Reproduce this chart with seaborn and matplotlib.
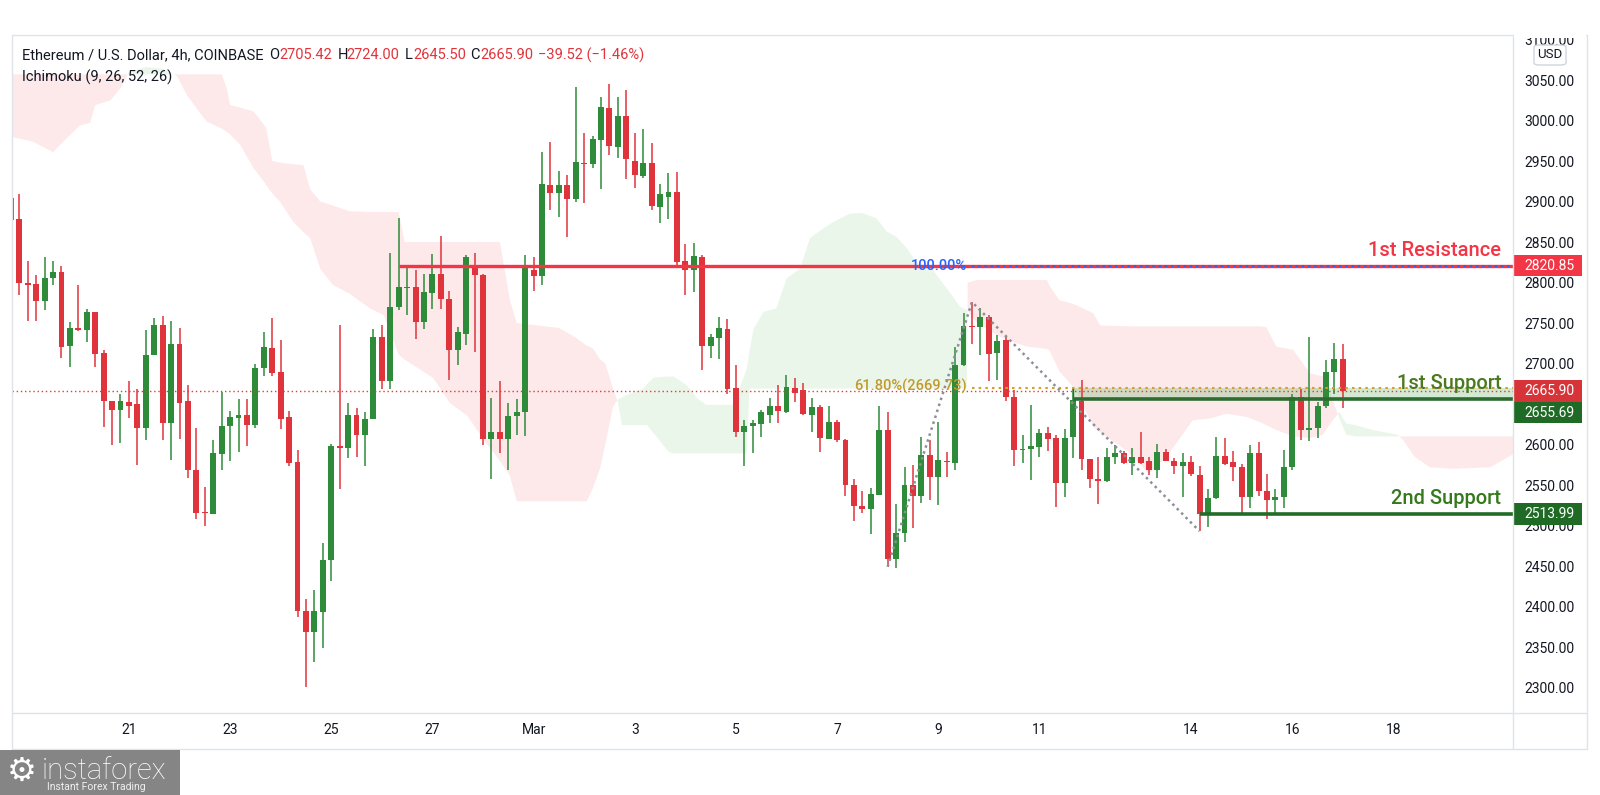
import numpy as np
import pandas as pd
import matplotlib
matplotlib.use("Agg")
import matplotlib.pyplot as plt
import matplotlib.transforms as mtransforms
from matplotlib.patches import Rectangle, FancyBboxPatch
from matplotlib.lines import Line2D
import seaborn as sns

# ---------------- data (4h candles, ETH/USD) ----------------
opens = [2904, 2878, 2800, 2798, 2777, 2805, 2813, 2722, 2744, 2742,
         2763, 2713, 2654, 2642, 2652, 2650, 2620, 2711, 2748, 2626,
         2724, 2654, 2568, 2517, 2514, 2588, 2623, 2633, 2636, 2624,
         2695, 2719, 2689, 2634, 2579, 2395, 2368, 2393, 2457, 2598,
         2596, 2636, 2612, 2631, 2733, 2678, 2770, 2793, 2795, 2751,
         2787, 2810, 2780, 2717, 2737, 2822, 2809, 2607, 2616, 2607,
         2635, 2640, 2816, 2808, 2921, 2911, 2921, 2903, 2948, 2946,
         2976, 3016, 2967, 3005, 2950, 2931, 2947, 2893, 2906, 2912,
         2826, 2815, 2832, 2722, 2731, 2743, 2670, 2615, 2623, 2625,
         2637, 2647, 2640, 2670, 2667, 2637, 2646, 2607, 2628, 2606,
         2550, 2524, 2520, 2538, 2618, 2459, 2491, 2550, 2536, 2587,
         2560, 2580, 2577, 2698, 2746, 2745, 2758, 2713, 2729, 2659,
         2593, 2595, 2597, 2614, 2608, 2552, 2609, 2654, 2582, 2557,
         2555, 2585, 2590, 2577, 2584, 2580, 2568, 2591, 2580, 2573,
         2579, 2562, 2514, 2534, 2586, 2578, 2572, 2535, 2589, 2543,
         2531, 2535, 2572, 2659, 2618, 2620, 2647, 2690, 2705.42]
highs = [2908, 2909, 2826, 2809, 2832, 2826, 2820, 2751, 2797, 2767,
         2764, 2717, 2654, 2662, 2678, 2669, 2741, 2756, 2759, 2752,
         2744, 2674, 2621, 2547, 2605, 2665, 2641, 2656, 2656, 2699,
         2739, 2756, 2729, 2641, 2593, 2409, 2420, 2478, 2601, 2748,
         2651, 2645, 2640, 2743, 2747, 2836, 2880, 2818, 2816, 2811,
         2835, 2857, 2790, 2745, 2834, 2836, 2811, 2658, 2679, 2651,
         2656, 2834, 2832, 2961, 2974, 2938, 2933, 3041, 2984, 2981,
         3029, 3045, 3029, 3038, 2984, 2989, 2972, 2922, 2935, 2937,
         2848, 2849, 2834, 2736, 2758, 2755, 2698, 2630, 2630, 2642,
         2658, 2673, 2686, 2682, 2676, 2658, 2649, 2647, 2630, 2607,
         2557, 2542, 2546, 2648, 2640, 2527, 2572, 2575, 2609, 2606,
         2628, 2591, 2720, 2762, 2776, 2769, 2760, 2735, 2733, 2667,
         2612, 2649, 2619, 2622, 2612, 2619, 2671, 2680, 2582, 2585,
         2596, 2600, 2592, 2596, 2616, 2584, 2601, 2595, 2583, 2590,
         2586, 2574, 2545, 2609, 2608, 2592, 2576, 2599, 2603, 2563,
         2545, 2593, 2662, 2669, 2733, 2652, 2704, 2725, 2724.00]
lows = [2875, 2785, 2752, 2753, 2766, 2797, 2707, 2696, 2740, 2726,
        2696, 2622, 2599, 2602, 2633, 2575, 2606, 2710, 2606, 2581,
        2607, 2559, 2508, 2500, 2514, 2568, 2580, 2591, 2598, 2621,
        2684, 2684, 2619, 2573, 2387, 2301, 2332, 2349, 2431, 2545,
        2583, 2585, 2573, 2631, 2668, 2668, 2766, 2760, 2730, 2743,
        2767, 2767, 2680, 2698, 2723, 2714, 2599, 2558, 2589, 2569,
        2612, 2610, 2790, 2797, 2889, 2881, 2856, 2899, 2898, 2942,
        2915, 2958, 2954, 2928, 2917, 2929, 2890, 2873, 2879, 2821,
        2785, 2788, 2692, 2707, 2706, 2662, 2609, 2574, 2589, 2609,
        2627, 2626, 2639, 2653, 2636, 2615, 2591, 2607, 2603, 2537,
        2506, 2515, 2490, 2538, 2450, 2448, 2480, 2497, 2528, 2531,
        2525, 2560, 2568, 2697, 2724, 2710, 2679, 2680, 2654, 2573,
        2577, 2556, 2584, 2592, 2523, 2535, 2583, 2568, 2546, 2526,
        2554, 2576, 2576, 2562, 2576, 2562, 2559, 2580, 2564, 2535,
        2561, 2493, 2498, 2533, 2575, 2555, 2514, 2522, 2537, 2508,
        2514, 2522, 2568, 2606, 2604, 2608, 2645, 2662, 2645.50]
closes = [2877, 2799, 2797, 2777, 2805, 2813, 2720, 2744, 2741, 2763,
          2712, 2654, 2642, 2654, 2648, 2620, 2711, 2748, 2626, 2724,
          2651, 2568, 2516, 2515, 2589, 2623, 2634, 2636, 2624, 2695,
          2721, 2688, 2632, 2577, 2395, 2368, 2395, 2457, 2598, 2596,
          2636, 2612, 2631, 2733, 2678, 2770, 2795, 2795, 2751, 2788,
          2810, 2780, 2717, 2739, 2831, 2809, 2607, 2616, 2607, 2635,
          2640, 2821, 2808, 2922, 2911, 2921, 2903, 2949, 2946, 2977,
          3017, 2969, 3006, 2952, 2933, 2947, 2894, 2909, 2912, 2825,
          2816, 2833, 2722, 2733, 2744, 2669, 2615, 2623, 2626, 2640,
          2648, 2641, 2671, 2664, 2638, 2646, 2608, 2628, 2605, 2550,
          2524, 2520, 2539, 2618, 2459, 2491, 2550, 2536, 2587, 2560,
          2581, 2578, 2698, 2746, 2745, 2758, 2712, 2728, 2659, 2593,
          2595, 2598, 2614, 2607, 2552, 2608, 2655, 2582, 2557, 2555,
          2585, 2590, 2577, 2584, 2577, 2568, 2591, 2580, 2573, 2579,
          2563, 2514, 2534, 2586, 2576, 2572, 2535, 2589, 2543, 2531,
          2535, 2572, 2659, 2618, 2620, 2647, 2690, 2705, 2665.90]

date_tick_idx = [14, 26, 38, 50, 62, 74, 86, 98, 110, 122, 140, 152, 164]
date_tick_labels = ["21", "23", "25", "27", "Mar", "3", "5", "7", "9", "11", "14", "16", "18"]
price_ticks = list(range(2300, 3101, 50))

# Ichimoku cloud (Senkou span A / B, already shifted), read at breakpoints
cloud_x = [0.0, 2.6, 5.0, 6.6, 8.2, 9.4, 10.0, 11.8, 13.0, 14.0,
           16.0, 18.0, 19.7, 20.9, 23.2, 25.0, 25.6, 26.0, 27.2, 28.8,
           30.0, 30.3, 31.0, 31.9, 33.5, 34.7, 35.5, 36.7, 38.2, 40.2,
           42.6, 44.2, 46.0, 46.7, 50.1, 52.1, 54.1, 56.5, 58.0, 59.2,
           60.0, 65.0, 67.0, 68.3, 69.0, 69.9, 70.5, 71.4, 72.0, 72.5,
           73.0, 75.0, 75.5, 76.2, 76.5, 78.0, 78.6, 80.2, 81.4, 82.5,
           85.7, 87.3, 87.6, 88.1, 89.3, 90.8, 92.0, 93.6, 94.8, 96.4,
           97.6, 99.5, 101.0, 102.7, 103.9, 105.1, 106.3, 107.4, 109.4, 111.0,
           112.6, 113.4, 113.5, 114.6, 117.3, 119.3, 120.5, 122.9, 123.2, 124.4,
           125.6, 126.4, 128.4, 129.2, 132.3, 135.0, 137.1, 139.1, 140.2, 142.2,
           144.2, 146.6, 148.1, 148.9, 150.1, 152.1, 154.1, 155.6, 156.0, 156.8,
           157.6, 158.4, 159.5, 161.5, 164.5, 165.2, 165.7, 166.5, 168.3, 171.0,
           175.5, 177.0, 178.5]
span_a = [2980, 2974, 2961, 2978, 2994, 2997, 3019, 3025, 3040, 3060,
          3066, 3064, 3055, 3031, 2999, 2990, 2986, 2983, 2970, 2941,
          2925, 2920, 2910, 2900, 2875, 2862, 2855, 2817, 2797, 2786,
          2768, 2760, 2711, 2705, 2682, 2651, 2636, 2600, 2580, 2561,
          2530, 2530, 2530, 2530, 2545, 2571, 2600, 2646, 2656, 2658,
          2661, 2669, 2675, 2682, 2683, 2684, 2684, 2673, 2657, 2649,
          2649, 2694, 2715, 2743, 2764, 2768, 2805, 2817, 2855, 2867,
          2875, 2885, 2886, 2879, 2863, 2856, 2842, 2825, 2815, 2793,
          2770, 2766, 2765, 2750, 2733, 2725, 2721, 2718, 2716, 2690,
          2676, 2665, 2622, 2615, 2593, 2564, 2585, 2614, 2630, 2632,
          2638, 2634, 2628, 2624, 2618, 2610, 2608, 2612, 2618, 2630,
          2640, 2626, 2624, 2618, 2612, 2605, 2597, 2585, 2572, 2570,
          2572, 2581, 2590]
span_b = [3057, 3057, 3057, 3057, 3057, 3057, 3057, 3057, 3057, 3057,
          3057, 3057, 3057, 3057, 3057, 3057, 3040, 3019, 3016, 3011,
          2995, 2990, 2950, 2948, 2946, 2945, 2915, 2900, 2895, 2888,
          2887, 2887, 2887, 2850, 2850, 2850, 2850, 2850, 2850, 2778,
          2750, 2744, 2732, 2722, 2719, 2705, 2700, 2670, 2652, 2624,
          2624, 2624, 2624, 2614, 2611, 2591, 2589, 2589, 2589, 2589,
          2589, 2589, 2669, 2669, 2669, 2669, 2669, 2669, 2669, 2669,
          2669, 2669, 2669, 2669, 2669, 2669, 2669, 2669, 2669, 2669,
          2669, 2669, 2800, 2803, 2803, 2803, 2803, 2803, 2796, 2778,
          2775, 2772, 2762, 2747, 2746, 2746, 2746, 2746, 2746, 2746,
          2746, 2746, 2746, 2745, 2721, 2717, 2688, 2684, 2675, 2655,
          2632, 2612, 2610, 2610, 2610, 2610, 2610, 2610, 2610, 2610,
          2610, 2610, 2610]

resistance_1 = 2820.85
support_1 = 2655.69
support_2 = 2513.99
last_close = 2665.90
fib_100 = 2820.85
fib_618 = 2669.73
trend_idx = [104, 114, 141]
trend_price = [2449, 2776, 2493]

# ---------------- styling ----------------
sns.set_theme(style="white")
plt.rcParams["font.family"] = ["Roboto", "DejaVu Sans"]

GREEN = "#2e8b3a"
RED = "#e0343c"
TXT = "#131722"
FRAME = "#e0e3eb"

W, H = 1600, 795
fig = plt.figure(figsize=(W / 100, H / 100), dpi=100)
fig.patch.set_facecolor("white")
fx = lambda x: x / W
fy = lambda y: 1 - y / H

PX0, PX1, PY0, PY1 = 11.7, 1513.0, 35.0, 713.3
ax = fig.add_axes([fx(PX0), fy(PY1), (PX1 - PX0) / W, (PY1 - PY0) / H])
ax.set_facecolor("white")
XMIN, XMAX = 0.095, 178.18
YMIN, YMAX = 2268.15, 3105.6

# cloud
cx = np.array(cloud_x)
sa = np.array(span_a, dtype=float)
sb = np.array(span_b, dtype=float)
ax.fill_between(cx, sa, sb, where=sa >= sb, interpolate=True,
                color="#4caf50", alpha=0.11, lw=0, zorder=1)
ax.fill_between(cx, sa, sb, where=sa < sb, interpolate=True,
                color="#f23645", alpha=0.11, lw=0, zorder=1)

# candles
df = pd.DataFrame({"o": opens, "h": highs, "l": lows, "c": closes})
df["i"] = np.arange(len(df))
up = df["c"] >= df["o"]
cols = np.where(up, GREEN, RED)
ax.vlines(df["i"], df["l"], df["h"], colors=cols, lw=1.1, zorder=3)
body_lo = np.minimum(df["o"], df["c"])
body_h = np.maximum((df["c"] - df["o"]).abs(), 1.4)
ax.bar(df["i"], body_h, bottom=body_lo, width=0.7, color=cols, linewidth=0, zorder=4)

# support zone
ax.fill_between([126, XMAX + 1], support_1, fib_618, color="#4caf50", alpha=0.25, lw=0, zorder=2)
ax.vlines(126, support_1, fib_618, color="#2e6b2f", lw=1.0, zorder=5)

# last price dotted line
ax.axhline(last_close, color="#e53935", lw=1.0, ls=(0, (1, 2)), zorder=5)
# resistance
ax.hlines(resistance_1, 46, XMAX + 1, color="#f23645", lw=2.4, zorder=5)
# fib levels
ax.hlines(fib_100, 114, XMAX + 1, color="#2962ff", lw=1.4, ls=(0, (1.2, 2.0)), zorder=6)
ax.hlines(fib_618, 114, XMAX + 1, color="#d1a12b", lw=1.5, ls=(0, (1.2, 2.0)), zorder=6)
# supports
ax.hlines(support_1, 126, XMAX + 1, color="#2e6b2f", lw=2.6, zorder=6)
ax.hlines(support_2, 141, XMAX + 1, color="#236b26", lw=2.6, zorder=6)

# trend lines of the fib tool
tr = pd.DataFrame({"i": trend_idx, "p": trend_price})
sns.lineplot(data=tr, x="i", y="p", ax=ax, color="#8c8f99", lw=1.8,
             linestyle=(0, (1, 1.5)), zorder=7, estimator=None, sort=False)

# texts on chart
ax.text(176.8, resistance_1 + 12, "1st Resistance", ha="right", va="baseline",
        fontsize=14.5, color="#f23645", fontweight="medium", zorder=8)
ax.text(176.8, support_1 + 13, "1st Support", ha="right", va="baseline",
        fontsize=14.5, color="#4a7a1f", fontweight="medium", zorder=8)
ax.text(176.8, support_2 + 12.5, "2nd Support", ha="right", va="baseline",
        fontsize=14.5, color="#347a1c", fontweight="medium", zorder=8)
ax.text(113.4, fib_100, "100.00%", ha="right", va="center", fontsize=10.5,
        color="#2962ff", fontweight="medium", zorder=8)
ax.text(113.4, fib_618 + 1.5, "61.80%(2669.73)", ha="right", va="center", fontsize=10.5,
        color="#c29a2c", fontweight="medium", zorder=8)

# axes & ticks
ax.set_xlim(XMIN, XMAX)
ax.set_ylim(YMIN, YMAX)
ax.set_xlabel("")
ax.set_ylabel("")
ax.set_xticks(date_tick_idx)
ax.set_xticklabels(date_tick_labels)
ax.set_yticks(price_ticks)
# the 2650 label sits fully behind the price tags on the scale
ax.set_yticklabels(["" if v == 2650 else f"{v:.2f}" for v in price_ticks])
ax.yaxis.tick_right()
ax.tick_params(axis="y", length=0, pad=7.9, labelsize=10, labelcolor=TXT)
ax.tick_params(axis="x", length=0, pad=7.0, labelsize=10, labelcolor=TXT)
ax.grid(False)
for s in ax.spines.values():
    s.set_visible(False)

# price tags on the scale
trans = mtransforms.blended_transform_factory(ax.transAxes, ax.transData)
def price_tag(center, text, fc):
    hh = 13.3
    ax.add_patch(Rectangle((0.9998, center - hh), 0.046, 2 * hh, transform=trans,
                           fc=fc, ec="none", clip_on=False, zorder=10))
    ax.text(1.0077, center, text, transform=trans, ha="left", va="center",
            color="white", fontsize=10, zorder=11, clip_on=False)

price_tag(resistance_1, f"{resistance_1:.2f}", "#f23645")
price_tag(last_close, f"{last_close:.2f}", "#d7343a")
price_tag(support_1 - 16.2, f"{support_1:.2f}", "#1f6b25")
price_tag(support_2, f"{support_2:.2f}", "#1f6b25")

# frame lines
def fline(xs, ys):
    fig.add_artist(Line2D([fx(x) for x in xs], [fy(y) for y in ys],
                          transform=fig.transFigure, color=FRAME, lw=1.0))
fline([PX0, 1587], [PY0, PY0])
fline([PX0, PX0], [PY0, 749])
fline([PX0, 1587], [PY1, PY1])
fline([PX1, PX1], [PY0, 749])
fline([1587, 1587], [PY0, 749])
fline([PX0, 1587], [749, 749])

# hide upper half of the clipped 3100 label
fig.add_artist(Rectangle((fx(1514), fy(37.5)), (1586 - 1514) / W, 37.5 / H,
                         transform=fig.transFigure, fc="white", ec="none", zorder=5))
# USD box
fig.add_artist(FancyBboxPatch((fx(1534), fy(65)), 32 / W, 20 / H,
                              boxstyle="round,pad=0,rounding_size=0.003",
                              transform=fig.transFigure, fc="white", ec="#d1d4dc",
                              lw=1.0, zorder=6))
fig.text(fx(1550), fy(55), "USD", ha="center", va="center", fontsize=9.5,
         color=TXT, zorder=7)

# header legend
hb = fy(59.3)
fig.text(fx(21.7), hb, "Ethereum / U.S. Dollar, 4h, COINBASE", fontsize=10.5,
         color=TXT, va="baseline")
for xpos, s, c in [(269.3, "O", TXT), (279.3, "2705.42", RED),
                   (337.3, "H", TXT), (346.7, "2724.00", RED),
                   (405.0, "L", TXT), (413.3, "2645.50", RED),
                   (470.0, "C", TXT), (480.0, "2665.90", RED),
                   (538.3, "\u221239.52 (\u22121.46%)", RED)]:
    fig.text(fx(xpos), hb, s, fontsize=10.5, color=c, va="baseline")
fig.text(fx(21.7), fy(81.5), "Ichimoku (9, 26, 52, 26)", fontsize=10.5,
         color=TXT, va="baseline")

# logo
fig.add_artist(Rectangle((0, 0), 180 / W, 45 / H, transform=fig.transFigure,
                         fc="#858585", ec="none", zorder=5))
fig.text(fx(22), fy(771), "\u2699", fontsize=24, color="white", ha="center",
         va="center", family=["DejaVu Sans"], zorder=6)
fig.text(fx(42), fy(779), "instaforex", fontsize=21, color="white",
         fontweight="light", va="baseline", zorder=6)
fig.text(fx(47), fy(790), "Instant Forex Trading", fontsize=7.5, color="#f0f0f0",
         va="baseline", zorder=6)

fig.savefig("out.png", dpi=100, facecolor="white")
